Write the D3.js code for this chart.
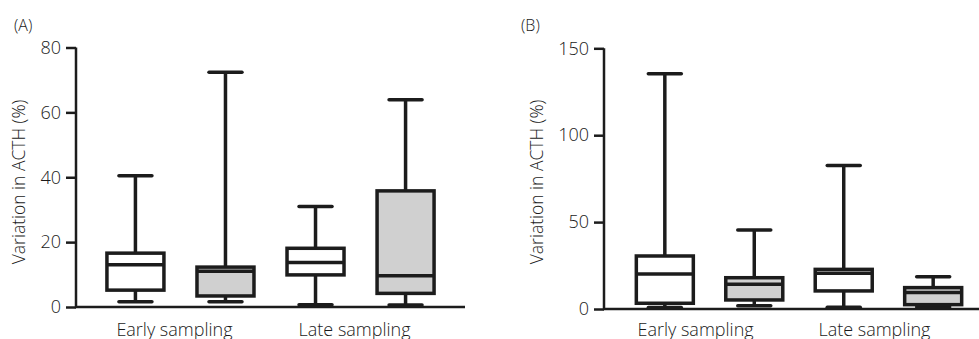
<!DOCTYPE html>
<html>
<head>
<meta charset="utf-8">
<script src="https://cdn.jsdelivr.net/npm/d3@7"></script>
<style>
  body { margin: 0; background: #fff; }
  svg { display: block; font-family: "Open Sans", "Noto Sans", sans-serif; font-weight: 300; }
  .tick-label, .cat-label, .y-title, .panel-tag { fill: #1a1a1a; }
</style>
</head>
<body>
<svg id="chart" width="979" height="339"></svg>
<script>
// Categories on the x axis
const categories = ['Early sampling', 'Late sampling'];
// Two boxes per category: open and shaded
const series = ['open', 'shaded'];

// Five-number summaries [min, q1, median, q3, max], order: Early open, Early shaded, Late open, Late shaded
const statsA = [
  [1.6, 5.2, 13.0, 16.6, 40.5],
  [1.6, 3.4, 11.0, 12.3, 72.4],
  [0.7, 9.9, 13.7, 18.1, 31.0],
  [0.6, 4.2, 9.6, 35.8, 63.9],
];
const statsB = [
  [0.8, 3.3, 20.1, 30.5, 135.3],
  [1.9, 5.2, 14.3, 18.0, 45.5],
  [1.0, 10.4, 20.5, 22.8, 82.5],
  [1.2, 2.5, 9.5, 12.3, 18.6],
];

const ticksA = [0, 20, 40, 60, 80];
const ticksB = [0, 50, 100, 150];

const yTitle = 'Variation in ACTH (%)';

const svg = d3.select('#chart');
const ink = '#1c1c1c';
const fillColor = d3.scaleOrdinal().domain(series).range(['#ffffff', '#d0d0d0']);

function drawPanel(cfg) {
  const g = svg.append('g');

  const keys = [];
  categories.forEach((c) => { series.forEach((s) => { keys.push(`${c}|${s}`); }); });

  const x = d3.scalePoint().domain(keys).range(cfg.xRange).padding(cfg.pad);
  const y = d3.scaleLinear().domain(cfg.yDomain).range(cfg.yRange);

  const boxW = 57;
  const capW = 33;

  // Y axis
  const yAxis = d3.axisLeft(y).tickValues(cfg.ticks).tickSize(10).tickPadding(5);
  const yAxisG = g.append('g')
    .attr('transform', `translate(${cfg.xRange[0]},0)`)
    .call(yAxis);
  yAxisG.select('.domain').remove();
  yAxisG.attr('font-family', null).attr('font-size', null);
  yAxisG.selectAll('.tick line').attr('stroke', ink).attr('stroke-width', 2.5);
  yAxisG.selectAll('.tick text')
    .attr('class', 'tick-label')
    .attr('font-size', 18);

  // axis lines
  g.append('path')
    .attr('d', `M${cfg.xRange[0]},${y(cfg.yDomain[1])}V${y(0)}H${cfg.xRange[1]}`)
    .attr('fill', 'none')
    .attr('stroke', ink)
    .attr('stroke-width', 2.5);

  // Boxes
  const data = cfg.stats.map((s, i) => ({
    key: keys[i],
    series: series[i % series.length],
    min: s[0], q1: s[1], med: s[2], q3: s[3], max: s[4],
  }));

  const box = g.selectAll('.box')
    .data(data)
    .join('g')
    .attr('class', 'box')
    .attr('transform', (d) => `translate(${x(d.key)},0)`);

  box.append('line')
    .attr('x1', 0).attr('x2', 0)
    .attr('y1', (d) => y(d.max)).attr('y2', (d) => y(d.q3))
    .attr('stroke', ink).attr('stroke-width', 3.5);
  box.append('line')
    .attr('x1', 0).attr('x2', 0)
    .attr('y1', (d) => y(d.q1)).attr('y2', (d) => y(d.min))
    .attr('stroke', ink).attr('stroke-width', 3.5);
  box.append('line')
    .attr('x1', -capW / 2).attr('x2', capW / 2)
    .attr('y1', (d) => y(d.max)).attr('y2', (d) => y(d.max))
    .attr('stroke', ink).attr('stroke-width', 3.5).attr('stroke-linecap', 'round');
  box.append('line')
    .attr('x1', -capW / 2).attr('x2', capW / 2)
    .attr('y1', (d) => y(d.min)).attr('y2', (d) => y(d.min))
    .attr('stroke', ink).attr('stroke-width', 3.5).attr('stroke-linecap', 'round');
  box.append('rect')
    .attr('x', -boxW / 2)
    .attr('width', boxW)
    .attr('y', (d) => y(d.q3))
    .attr('height', (d) => y(d.q1) - y(d.q3))
    .attr('fill', (d) => fillColor(d.series))
    .attr('stroke', ink).attr('stroke-width', 3.5);
  box.append('line')
    .attr('x1', -boxW / 2).attr('x2', boxW / 2)
    .attr('y1', (d) => y(d.med)).attr('y2', (d) => y(d.med))
    .attr('stroke', ink).attr('stroke-width', 3.5);

  // Category labels
  g.selectAll('.cat-label')
    .data(categories)
    .join('text')
    .attr('class', 'cat-label')
    .attr('x', (c) => (x(`${c}|${series[0]}`) + x(`${c}|${series[1]}`)) / 2 + cfg.labelShift)
    .attr('y', 336)
    .attr('text-anchor', 'middle')
    .attr('font-size', 18)
    .text((c) => c);

  // Y title
  g.append('text')
    .attr('class', 'y-title')
    .attr('transform', `translate(${cfg.titleX},182) rotate(-90)`)
    .attr('text-anchor', 'middle')
    .attr('font-size', 17.5)
    .text(yTitle);

  // Panel tag
  g.append('text')
    .attr('class', 'panel-tag')
    .attr('x', cfg.tagX)
    .attr('y', 31)
    .attr('font-size', 16)
    .text(cfg.tag);
}

drawPanel({
  tag: '(A)', tagX: 14, titleX: 25,
  stats: statsA, ticks: ticksA,
  xRange: [76, 465], pad: 0.66,
  yDomain: [0, 80], yRange: [307, 47.5],
  labelShift: -6,
});

drawPanel({
  tag: '(B)', tagX: 521, titleX: 543,
  stats: statsB, ticks: ticksB,
  xRange: [604, 994], pad: 0.68,
  yDomain: [0, 150], yRange: [309, 48.3],
  labelShift: -14,
});
</script>
</body>
</html>
